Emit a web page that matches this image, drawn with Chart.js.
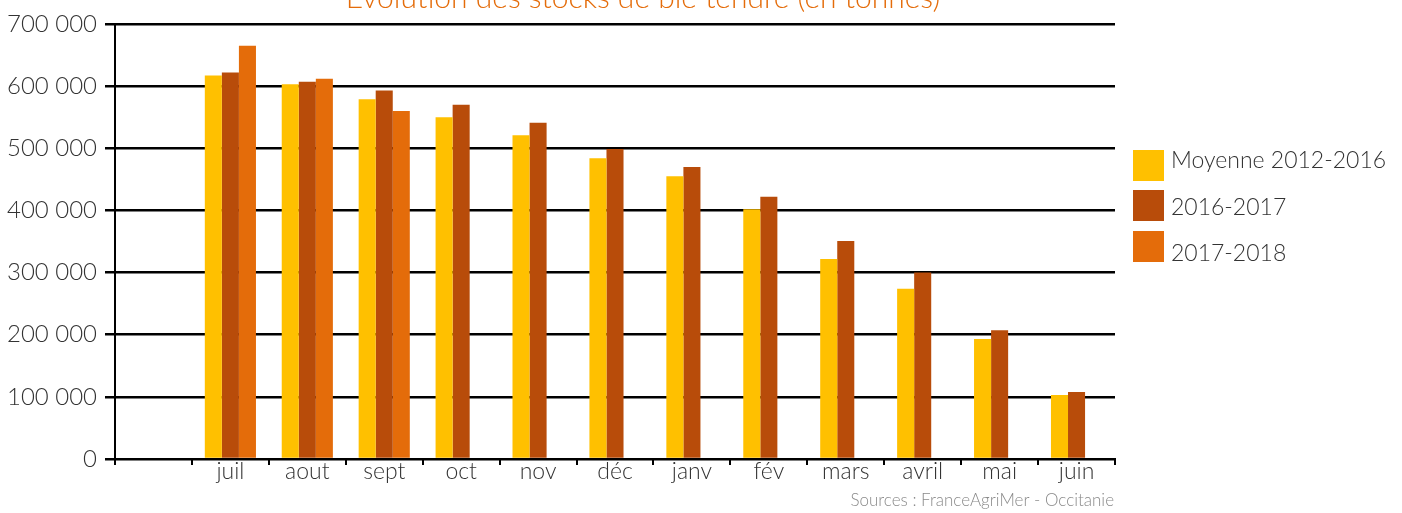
<!DOCTYPE html>
<html>
<head>
<meta charset="utf-8">
<script src="https://cdn.jsdelivr.net/npm/chart.js@4.4.1/dist/chart.umd.min.js"></script>
<style>
  html, body { margin: 0; padding: 0; background: #fff; }
  #wrap { width: 1402px; height: 513px; position: relative; }
</style>
</head>
<body>
<div id="wrap"><canvas id="stocks"></canvas></div>
<script>
const months = ['', 'juil', 'aout', 'sept', 'oct', 'nov', 'déc', 'janv', 'fév', 'mars', 'avril', 'mai', 'juin'];
const moyenne = [null, 617000, 603000, 579000, 550000, 521000, 484000, 455000, 402000, 322000, 274000, 193000, 103000];
const stock1617 = [null, 622000, 607000, 593000, 570000, 541000, 499000, 470000, 422000, 351000, 300000, 207000, 108000];
const stock1718 = [null, 665000, 612000, 560000, null, null, null, null, null, null, null, null, null];
const yTicks = [0, 100000, 200000, 300000, 400000, 500000, 600000, 700000];

const FONT = "'Lato', 'Open Sans', 'DejaVu Sans', sans-serif";
const colors = ['#FFC000', '#B84C0A', '#E46C0A'];

const extras = {
    id: 'extras',
    afterDraw(chart) {
        const ctx = chart.ctx;
        ctx.save();
        // title, cut off at the top edge like the original
        ctx.font = '300 30px ' + FONT;
        ctx.fillStyle = '#E46C0A';
        ctx.textAlign = 'center';
        ctx.textBaseline = 'alphabetic';
        ctx.fillText('Évolution des stocks de blé tendre (en tonnes)', 643, 8);

        // legend
        const boxY = [150, 190, 231];
        ctx.font = '300 23px ' + FONT;
        ctx.textAlign = 'left';
        ctx.textBaseline = 'middle';
        chart.data.datasets.forEach((ds, i) => {
            ctx.fillStyle = ds.backgroundColor;
            ctx.fillRect(1133, boxY[i], 31, 31);
            ctx.fillStyle = '#333';
            ctx.fillText(ds.label, 1171, 161 + i * 46.5);
        });

        // source
        ctx.font = '300 17px ' + FONT;
        ctx.fillStyle = '#8a8a8a';
        ctx.textAlign = 'right';
        ctx.fillText('Sources : FranceAgriMer - Occitanie', 1114, 501);
        ctx.restore();
    }
};

new Chart(document.getElementById('stocks'), {
    type: 'bar',
    data: {
        labels: months,
        datasets: [
            { label: 'Moyenne 2012-2016', data: moyenne, backgroundColor: colors[0] },
            { label: '2016-2017', data: stock1617, backgroundColor: colors[1] },
            { label: '2017-2018', data: stock1718, backgroundColor: colors[2] }
        ]
    },
    options: {
        responsive: true,
        maintainAspectRatio: false,
        animation: false,
        layout: { padding: { left: 0, right: 287, top: 24, bottom: 20 } },
        datasets: { bar: { categoryPercentage: 0.665, barPercentage: 1 } },
        plugins: {
            legend: { display: false },
            title: { display: false },
            tooltip: { enabled: false }
        },
        scales: {
            x: {
                grid: { display: true, drawOnChartArea: false, color: '#000', lineWidth: 2, tickLength: 6, offset: true },
                border: { color: '#000', width: 2 },
                ticks: { color: '#333', font: { family: FONT, size: 23, weight: '300' }, padding: -7, maxRotation: 0, autoSkip: false },
                afterFit(scale) { scale.height = 34; }
            },
            y: {
                min: 0,
                max: 700000,
                afterBuildTicks(scale) { scale.ticks = yTicks.map(v => ({ value: v })); },
                grid: { color: '#000', lineWidth: 2.5, tickLength: 10 },
                border: { color: '#000', width: 2 },
                ticks: {
                    color: '#333',
                    padding: 8,
                    font: { family: FONT, size: 24, weight: '300' },
                    callback: v => v === 0 ? '0' : (v / 1000) + ' 000'
                },
                afterFit(scale) { scale.width = 115; }
            }
        }
    },
    plugins: [extras]
});
</script>
</body>
</html>
